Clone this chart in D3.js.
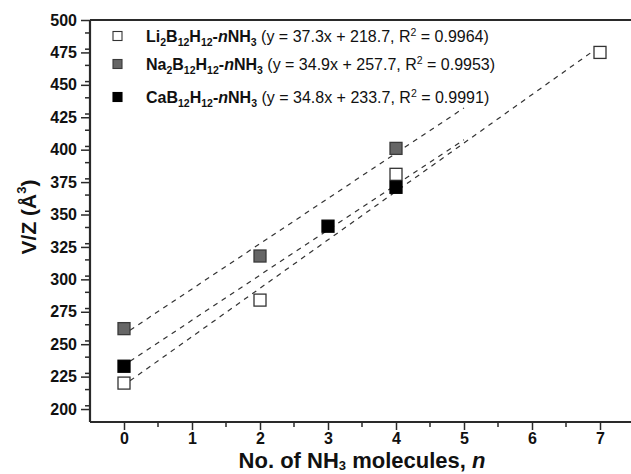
<!DOCTYPE html>
<html>
<head>
<meta charset="utf-8">
<script src="https://cdn.jsdelivr.net/npm/d3@7/dist/d3.min.js"></script>
<style>
  html, body { margin: 0; padding: 0; background: #fff; }
  svg { display: block; font-family: "Liberation Sans", Arial, sans-serif; }
</style>
</head>
<body>
<svg id="chart" width="631" height="474"></svg>
<script>
// Unit-cell volume per formula unit vs. number of NH3 molecules
const liN = [0, 2, 4, 7];
const liV = [220, 284, 381, 475];
const naN = [0, 2, 4];
const naV = [262, 318, 401];
const caN = [0, 3, 4];
const caV = [233, 341, 371];

// Linear fits: [slope, intercept, R², x-start, x-end]
const liFit = [37.3, 218.7, 0.9964, 0, 7];
const naFit = [34.9, 257.7, 0.9953, 0, 5];
const caFit = [34.8, 233.7, 0.9991, 0, 5];

const xTicks = [0, 1, 2, 3, 4, 5, 6, 7];
const yTicks = [200, 225, 250, 275, 300, 325, 350, 375, 400, 425, 450, 475, 500];

const series = [
  { name: "Li", n: liN, v: liV, fit: liFit, fill: "#ffffff", stroke: "#333333",
    label: [["Li", "b"], ["2", "sub"], ["B", "b"], ["12", "sub"], ["H", "b"], ["12", "sub"], ["-", "b"], ["n", "bi"], ["NH", "b"], ["3", "sub"]] },
  { name: "Na", n: naN, v: naV, fit: naFit, fill: "#666666", stroke: "#3a3a3a",
    label: [["Na", "b"], ["2", "sub"], ["B", "b"], ["12", "sub"], ["H", "b"], ["12", "sub"], ["-", "b"], ["n", "bi"], ["NH", "b"], ["3", "sub"]] },
  { name: "Ca", n: caN, v: caV, fit: caFit, fill: "#000000", stroke: "#000000",
    label: [["CaB", "b"], ["12", "sub"], ["H", "b"], ["12", "sub"], ["-", "b"], ["n", "bi"], ["NH", "b"], ["3", "sub"]] }
];

const svg = d3.select("#chart");
const x = d3.scaleLinear().domain([-0.5, 7.5]).range([90, 634]);
const y = d3.scaleLinear().domain([190, 500]).range([422, 20]);
const axisColor = "#2a2a2a";
const font = "Liberation Sans, Arial, sans-serif";

// Top frame line
svg.append("line")
  .attr("x1", x(-0.5)).attr("x2", x(7.5))
  .attr("y1", y(500)).attr("y2", y(500))
  .attr("stroke", axisColor).attr("stroke-width", 2);

// Y axis with minor ticks
const yMinor = d3.range(190, 500.1, 12.5).filter(v => v > 190 && !yTicks.includes(v));
svg.append("g").selectAll("line").data(yMinor).join("line")
  .attr("x1", 85).attr("x2", 90)
  .attr("y1", d => y(d)).attr("y2", d => y(d))
  .attr("stroke", axisColor).attr("stroke-width", 1.5);

const yAxis = d3.axisLeft(y).tickValues(yTicks).tickSize(9).tickPadding(4).tickFormat(d3.format("d"));
const gy = svg.append("g").attr("transform", "translate(90,0)").call(yAxis);
gy.select(".domain").attr("stroke", axisColor).attr("stroke-width", 2.2).attr("d", `M0,${y(500)}V${y(190)}`);
gy.selectAll(".tick line").attr("stroke", axisColor).attr("stroke-width", 1.5);
gy.selectAll(".tick text").attr("font-size", 16).attr("font-weight", "bold")
  .attr("font-family", font).attr("fill", "#111");

// X axis with minor ticks
const xMinor = d3.range(0.5, 7.5, 1);
svg.append("g").selectAll("line").data(xMinor).join("line")
  .attr("x1", d => x(d)).attr("x2", d => x(d))
  .attr("y1", 422).attr("y2", 427)
  .attr("stroke", axisColor).attr("stroke-width", 1.5);

const xAxis = d3.axisBottom(x).tickValues(xTicks).tickSize(8).tickPadding(3).tickFormat(d3.format("d"));
const gx = svg.append("g").attr("transform", "translate(0,422)").call(xAxis);
gx.select(".domain").attr("stroke", axisColor).attr("stroke-width", 2.2).attr("d", `M${x(-0.5)},0H${x(7.5)}`);
gx.selectAll(".tick line").attr("stroke", axisColor).attr("stroke-width", 1.5);
gx.selectAll(".tick text").attr("font-size", 16).attr("font-weight", "bold")
  .attr("font-family", font).attr("fill", "#111");

// Axis titles
const xt = svg.append("text")
  .attr("x", 362).attr("y", 468)
  .attr("text-anchor", "middle").attr("font-size", 22).attr("font-weight", "bold").attr("fill", "#111");
xt.append("tspan").text("No. of NH");
xt.append("tspan").text("3").attr("font-size", 13).attr("dy", 2);
xt.append("tspan").text(" molecules, ").attr("dy", -2);
xt.append("tspan").text("n").attr("font-style", "italic");

const yt = svg.append("text")
  .attr("transform", "translate(36,217) rotate(-90)")
  .attr("text-anchor", "middle").attr("font-size", 21).attr("font-weight", "bold").attr("fill", "#111");
yt.append("tspan").text("V/Z (Å");
yt.append("tspan").text("3").attr("font-size", 13).attr("dy", -10);
yt.append("tspan").text(")").attr("dy", 10);

// Fit lines
series.forEach(s => {
  const [m, b, , x0, x1] = s.fit;
  svg.append("line")
    .attr("x1", x(x0) + 6).attr("y1", y(m * x0 + b) - 4)
    .attr("x2", x(x1)).attr("y2", y(m * x1 + b))
    .attr("stroke", "#333").attr("stroke-width", 1.2)
    .attr("stroke-dasharray", "5,5");
});

// Data markers
series.forEach(s => {
  svg.append("g").selectAll("rect").data(s.n.map((n, i) => [n, s.v[i]])).join("rect")
    .attr("x", d => x(d[0]) - 6).attr("y", d => y(d[1]) - 6)
    .attr("width", 12).attr("height", 12)
    .attr("fill", s.fill).attr("stroke", s.stroke).attr("stroke-width", 1.3);
});

// Legend
const legY = [36, 64, 97];
series.forEach((s, i) => {
  const [m, b, r2] = s.fit;
  svg.append("rect")
    .attr("x", 113).attr("y", legY[i] - 4.5).attr("width", 9).attr("height", 9)
    .attr("fill", s.fill).attr("stroke", s.stroke).attr("stroke-width", 1.1);
  const t = svg.append("text").attr("x", 146).attr("y", legY[i] + 6)
    .attr("font-size", 16).attr("fill", "#111");
  let shift = 0;
  s.label.forEach(([txt, st]) => {
    const sp = t.append("tspan").text(txt).attr("font-weight", "bold");
    if (st === "sub") {
      sp.attr("font-size", 10.5).attr("dy", 4 - shift); shift = 4;
    } else {
      sp.attr("dy", -shift); shift = 0;
      if (st === "bi") sp.attr("font-style", "italic");
    }
  });
  t.append("tspan").text(` (y = ${m}x + ${b}, R`).attr("dy", -shift);
  t.append("tspan").text("2").attr("font-size", 10.5).attr("dy", -6);
  t.append("tspan").text(` = ${r2.toFixed(4)})`).attr("dy", 6);
});
</script>
</body>
</html>
